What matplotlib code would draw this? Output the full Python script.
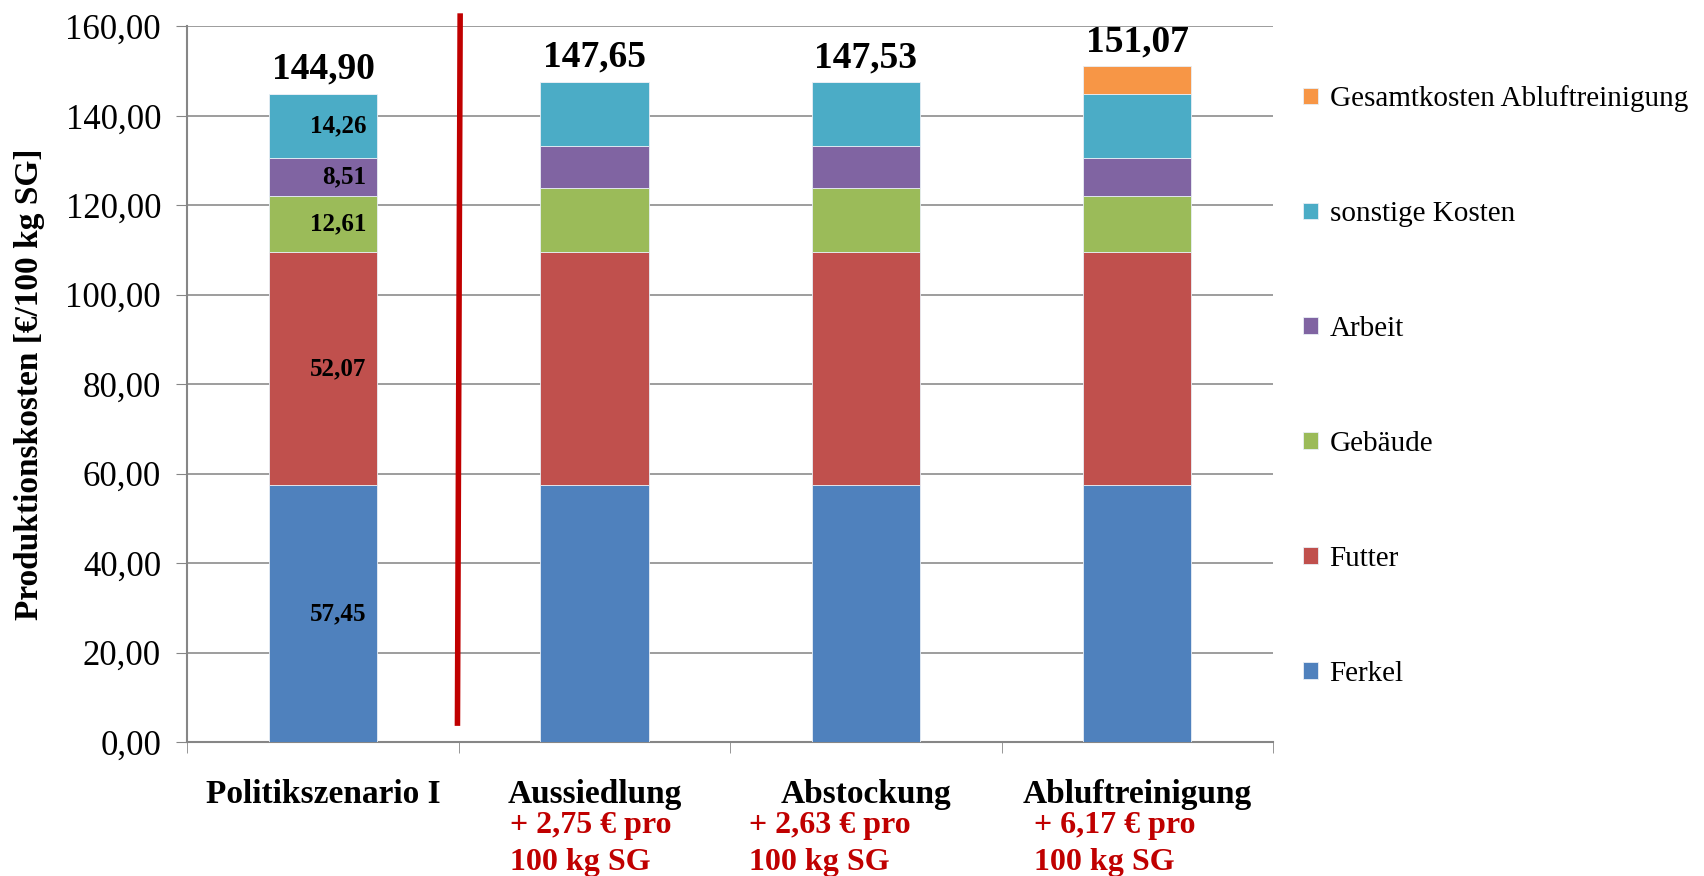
import matplotlib
matplotlib.use("Agg")
import matplotlib.pyplot as plt
import matplotlib.transforms as mtransforms
from matplotlib.ticker import FuncFormatter, FixedLocator
import numpy as np

plt.rcParams['font.family'] = ['Liberation Serif', 'DejaVu Serif']

# Produktionskosten je Szenario [€/100 kg SG]
kategorien = ['Politikszenario I', 'Aussiedlung', 'Abstockung', 'Abluftreinigung']
ferkel = [57.45, 57.45, 57.45, 57.45]
futter = [52.07, 52.07, 52.07, 52.07]
gebaeude = [12.61, 14.28, 14.25, 12.61]
arbeit = [8.51, 9.45, 9.45, 8.51]
sonstige = [14.26, 14.40, 14.31, 14.26]
abluft = [0.0, 0.0, 0.0, 6.17]

reihen = [
    ('Ferkel', ferkel, '#4F81BD'),
    ('Futter', futter, '#C0504D'),
    ('Gebäude', gebaeude, '#9BBB59'),
    ('Arbeit', arbeit, '#8064A2'),
    ('sonstige Kosten', sonstige, '#4BACC6'),
    ('Gesamtkosten Abluftreinigung', abluft, '#F79646'),
]

def komma(v):
    return f'{v:.2f}'.replace('.', ',')

fig = plt.figure(figsize=(17.04, 8.76), dpi=100)
ax = fig.add_axes([0.110, 0.153, 0.637, 0.817])

x = np.arange(len(kategorien))
breite = 0.4
unten = np.zeros(len(kategorien))
balken = []
for name, werte, farbe in reihen:
    werte = np.array(werte)
    b = ax.bar(x, werte, breite, bottom=unten, color=farbe, label=name,
               edgecolor='#e8eef5', linewidth=0.6, zorder=3)
    balken.append(b)
    # Segmentwerte nur für das Basisszenario
    if name in ('Ferkel', 'Futter', 'Gebäude', 'Arbeit', 'sonstige Kosten'):
        ax.text(x[0] + 0.16, unten[0] + werte[0] / 2, komma(werte[0]),
                ha='right', va='center', fontsize=18, fontweight='bold', zorder=4)
    unten = unten + werte

gesamt = unten
for xi, g in zip(x, gesamt):
    ax.annotate(komma(g), (xi, g), xytext=(0, 5), textcoords='offset points',
                ha='center', va='bottom', fontsize=27, fontweight='bold')

# Mehrkosten gegenüber dem Basisszenario
trans = mtransforms.blended_transform_factory(ax.transData, ax.transAxes)
text_x = [0.688, 1.568, 2.62]
for xi, tx in zip(x[1:], text_x):
    diff = gesamt[xi] - gesamt[0]
    ax.text(tx, -0.096, f'+ {komma(diff)} € pro\n100 kg SG', transform=trans,
            ha='left', va='top', fontsize=23, fontweight='bold',
            color='#C00000', linespacing=1.4)

# Trennlinie zum Basisszenario
ax.plot([0.505, 0.495], [162.9, 3.6], color='#C00000', lw=4, clip_on=False, zorder=5,
        solid_capstyle='butt')

ax.set_xlim(-0.5, 3.5)
ax.set_ylim(0, 160)
ax.set_yticks(np.arange(0, 161, 20))
ax.yaxis.set_major_formatter(FuncFormatter(lambda v, p: komma(v)))
ax.tick_params(axis='y', labelsize=25, length=8, color='#868686', direction='out', pad=11)

ax.set_xticks(x)
ax.set_xticklabels(kategorien, fontsize=24, fontweight='bold')
ax.tick_params(axis='x', which='major', length=0, pad=27)
ax.xaxis.set_minor_locator(FixedLocator([-0.5, 0.5, 1.5, 2.5, 3.5]))
ax.tick_params(axis='x', which='minor', length=8, color='#868686', direction='out')

ax.grid(axis='y', color='#8c8c8c', lw=1.2, zorder=0)
ax.set_axisbelow(True)
for s in ('top', 'right'):
    ax.spines[s].set_visible(False)
for s in ('left', 'bottom'):
    ax.spines[s].set_color('#868686')
    ax.spines[s].set_linewidth(1.5)

ax.set_ylabel('Produktionskosten [€/100 kg SG]', fontsize=24, fontweight='bold')
ax.yaxis.set_label_coords(-0.131, 0.50)

handles = [b for b in balken][::-1]
labels = [r[0] for r in reihen][::-1]
fig.legend(handles, labels, loc='upper left', bbox_to_anchor=(0.758, 0.916),
           frameon=False, fontsize=21, handlelength=0.5, handleheight=0.5,
           handletextpad=0.4, labelspacing=3.05, borderaxespad=0)

fig.savefig('out.png', dpi=100)
